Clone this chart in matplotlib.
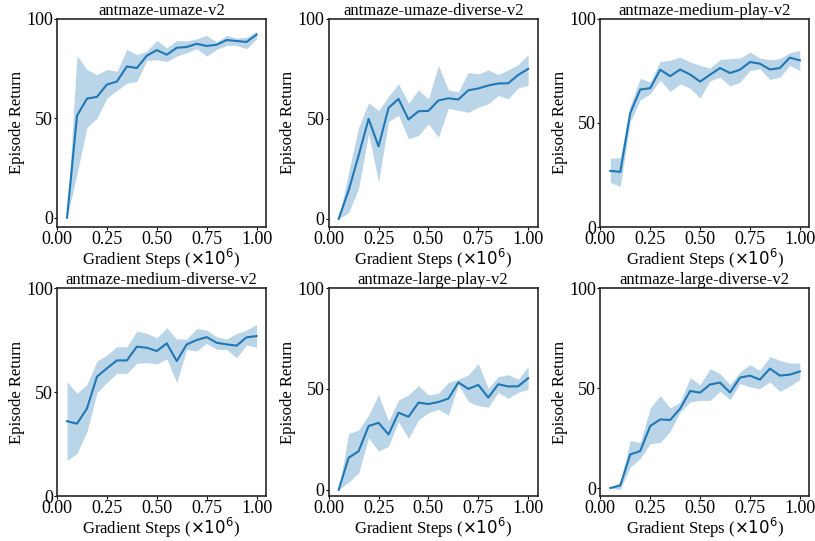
import numpy as np
import matplotlib
matplotlib.use("Agg")
import matplotlib.pyplot as plt

plt.rcParams["font.family"] = ["Liberation Serif", "DejaVu Serif"]
plt.rcParams["mathtext.fontset"] = "dejavusans"

STEPS = np.round(np.arange(1, 21) * 0.05, 2)

TASKS = ["antmaze-umaze-v2", "antmaze-umaze-diverse-v2", "antmaze-medium-play-v2",
         "antmaze-medium-diverse-v2", "antmaze-large-play-v2", "antmaze-large-diverse-v2"]

# mean curves and band edges
umaze_mean = [0, 51.3, 59.9, 60.8, 67, 68.5, 76.1, 75.3, 81.5, 84.3,
              82, 85.5, 85.9, 87.5, 86.4, 87, 89.4, 88.9, 88.4, 92.1]
umaze_hi = [0, 81.6, 74.6, 72, 74.6, 73.6, 84.7, 82, 83.8, 89.2,
            85.4, 89.2, 88.9, 90, 91.7, 88.4, 91.7, 90.4, 90.7, 93.9]
umaze_lo = [0, 22, 45.5, 50, 60.1, 64, 67.7, 68.5, 79.1, 79.5,
            78.6, 81.3, 83, 85, 81.3, 84.7, 86.7, 86.7, 85, 90]

umaze_div_mean = [0, 14.2, 31.7, 50, 36.2, 55.5, 60, 49.7, 53.8, 54,
                  59.2, 60.3, 59.7, 64.3, 65.2, 66.7, 67.7, 67.8, 72, 75]
umaze_div_hi = [0, 23.3, 45.8, 58, 54.2, 61.3, 67.5, 57.8, 64.5, 60,
                76.7, 64.5, 63.5, 73.3, 72.5, 74.5, 72.2, 74.5, 77.2, 82.2]
umaze_div_lo = [0, 3, 15.3, 42.5, 18.3, 48.7, 51.7, 40, 41.7, 47.5,
                40.8, 55.3, 54.2, 53.3, 55.8, 57.5, 61.7, 60, 65.5, 66.7]

med_play_mean = [27, 26.5, 54.8, 66.1, 66.7, 75.6, 72.5, 75.7, 73.3, 69.9,
                 73.2, 76.4, 74, 75.6, 79.3, 78.5, 75.7, 76.4, 81.4, 80.1]
med_play_hi = [33, 33.4, 58.4, 71.5, 69.6, 79.6, 80.1, 81.7, 79.3, 77.7,
               76.4, 80.5, 80.9, 81.2, 84.1, 81.2, 80.4, 80.9, 83.8, 84.9]
med_play_lo = [21.4, 19.5, 50.6, 61.1, 64, 70.7, 65.1, 68.8, 66.7, 61.9,
               70.3, 72, 67.7, 69.6, 75.2, 76, 70.9, 72, 77.7, 75.2]

med_div_mean = [36, 34.8, 42.1, 57.4, 61.4, 65.2, 65.2, 71.8, 71.3, 69.7,
                73.4, 64.9, 72.9, 75, 76.4, 73.7, 72.9, 72.3, 76.3, 76.9]
med_div_hi = [55, 49.4, 53.7, 64.9, 67.8, 71.8, 71.8, 79.3, 78.2, 76.1,
              80.9, 75.5, 75.5, 80.6, 79.8, 76.6, 75.5, 78.2, 79.8, 82.5]
med_div_lo = [17, 20.5, 30.9, 49.7, 54.6, 59, 59, 63.8, 64.1, 63.5,
              65.9, 54.5, 70.5, 69.7, 73.4, 70.5, 70.5, 66.5, 72.6, 71.5]

large_play_mean = [0, 15.9, 19.1, 31.6, 33.2, 27.4, 38.2, 36.2, 43.2, 42.5,
                   43.5, 45.2, 53.2, 50, 52, 45.7, 52.3, 51.2, 51.3, 55.3]
large_play_hi = [0, 27.9, 29.6, 37, 47.3, 34, 44.5, 47, 51.7, 47,
                 47.8, 53.2, 54.8, 57, 62.5, 50.3, 56.1, 57, 54.8, 61.1]
large_play_lo = [0, 3.8, 8.3, 25.7, 19.1, 21.6, 33.7, 25.4, 34.6, 38.2,
                 39.9, 37, 52, 43.7, 41.7, 40.9, 48.3, 45.3, 48.3, 49.8]

large_div_mean = [0, 1.3, 16.8, 18.5, 31, 34.3, 34, 39.7, 48.5, 47.7,
                  51.8, 52.7, 47.8, 55.2, 56.2, 54.2, 59.7, 56.2, 56.7, 58.3]
large_div_hi = [0, 3, 23.8, 22.7, 40, 46.3, 40, 43, 55.2, 51.7,
                59.7, 57.2, 51.8, 58, 61.7, 58.8, 65.8, 63.8, 62.5, 62.5]
large_div_lo = [0, -0.7, 10.5, 14.7, 22.2, 22.7, 28.3, 38, 43, 43.8,
                43.8, 48.3, 44.2, 52.2, 50.5, 49.7, 53, 48.3, 51, 54.2]

MEANS = [umaze_mean, umaze_div_mean, med_play_mean, med_div_mean, large_play_mean, large_div_mean]
HIGHS = [umaze_hi, umaze_div_hi, med_play_hi, med_div_hi, large_play_hi, large_div_hi]
LOWS = [umaze_lo, umaze_div_lo, med_play_lo, med_div_lo, large_play_lo, large_div_lo]

COLOR = "#1f77b4"

fig, axes = plt.subplots(2, 3, figsize=(8.15, 5.41), dpi=100)
fig.subplots_adjust(left=0.070, right=0.993, top=0.965, bottom=0.083,
                    wspace=0.30, hspace=0.293)

for ax, name, m, hi, lo in zip(axes.flat, TASKS, MEANS, HIGHS, LOWS):
    ax.fill_between(STEPS, lo, hi, color=COLOR, alpha=0.3, linewidth=0)
    ax.plot(STEPS, m, color=COLOR, linewidth=1.5)
    ax.set_xlim(left=0)
    bottom = ax.get_ylim()[0]
    ax.set_ylim(min(bottom, 0), 100)
    ax.set_xticks([0, 0.25, 0.5, 0.75, 1.0])
    ax.set_yticks([0, 50, 100])
    ax.set_title(name, fontsize=12, pad=2)
    ax.set_xlabel(r"Gradient Steps ($\times 10^6$)", fontsize=12, labelpad=-1)
    ax.set_ylabel("Episode Return", fontsize=12, labelpad=1)
    ax.tick_params(labelsize=13, length=2, width=0.8, pad=1)
    for s in ax.spines.values():
        s.set_color("#262626")
        s.set_linewidth(1.2)

fig.savefig("out.png", dpi=100)
